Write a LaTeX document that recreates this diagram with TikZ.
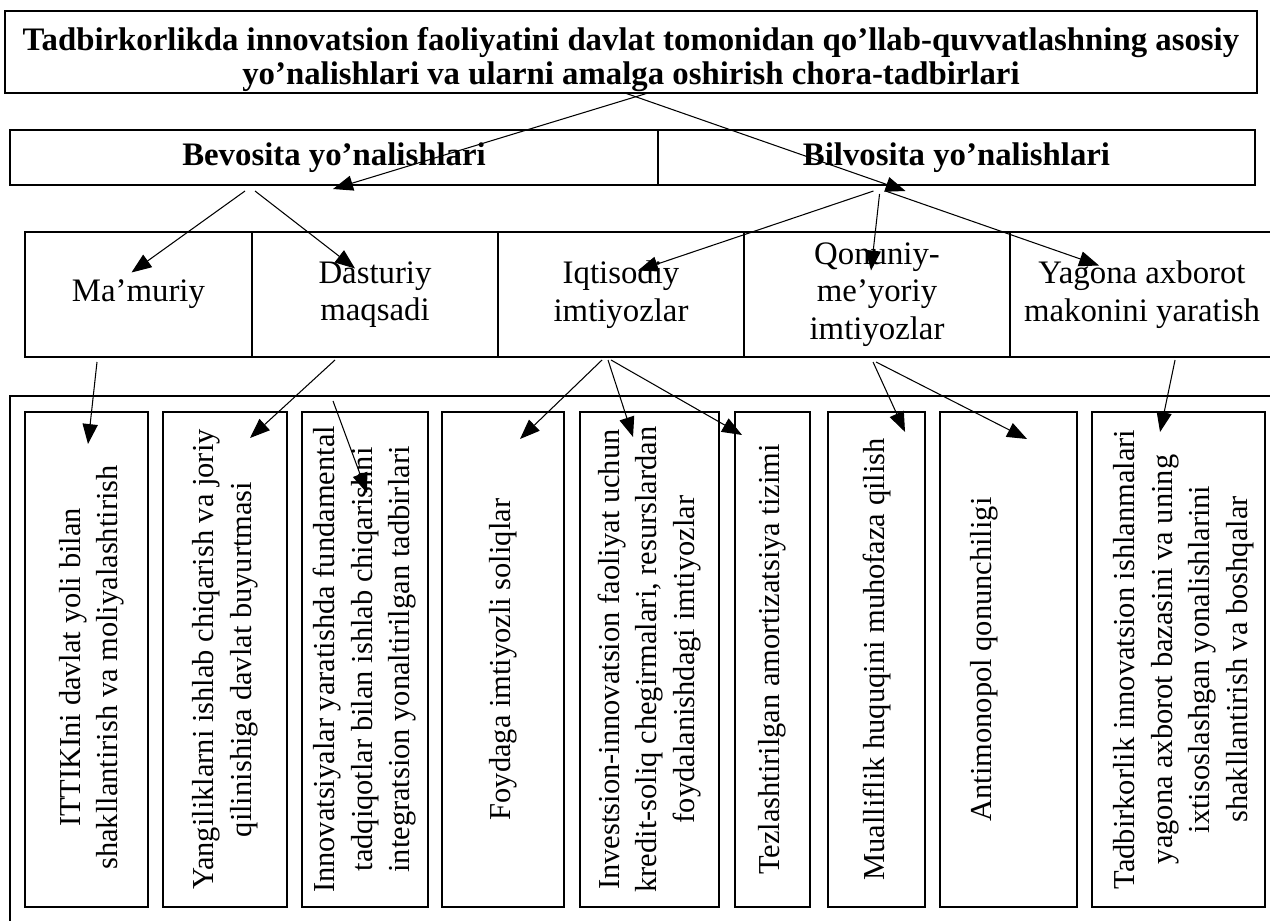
\documentclass[tikz,border=0pt]{standalone}
\usepackage{fontspec}
\setmainfont{Liberation Serif}
\usetikzlibrary{arrows.meta,positioning,calc}

\begin{document}
\begin{tikzpicture}[x=0.015cm,y=-0.015cm,
  box/.style={draw,line width=0.9pt,outer sep=0pt,inner sep=0pt,align=center,font=\fontsize{14}{16}\selectfont},
  headbox/.style={box,minimum height=0.825cm,font=\fontsize{14}{16}\selectfont\bfseries},
  cellbox/.style={box,minimum height=1.875cm},
  itembox/.style={box,minimum height=7.425cm},
  vtext/.style={rotate=90,align=center,inner sep=0pt,font=\fontsize{13}{16}\selectfont},
  arr/.style={-{Triangle[length=8.5pt,width=6.5pt]},line width=0.45pt},
]
\useasboundingbox (0,0) rectangle (1270,921);
\node[anchor=south west,font=\fontsize{14}{16}\selectfont\bfseries] (chz) at (1177,4) {2-chizma};
\node[box,minimum width=18.78cm,minimum height=1.23cm] (title) at (631,52) {};
\node[align=center,inner sep=0pt,font=\fontsize{14}{14.5}\selectfont\bfseries] (ttl) at ($(title)+(0,8)$)
  {Tadbirkorlikda innovatsion faoliyatini davlat tomonidan qo’llab-quvvatlashning asosiy\\yo’nalishlari va ularni amalga oshirish chora-tadbirlari};

\node[headbox,minimum width=9.72cm] (bev) at (334,157.5) {Bevosita yo’nalishlari};
\node[headbox,minimum width=8.955cm,right=0pt of bev] (bil) {Bilvosita yo’nalishlari};

\node[cellbox,minimum width=3.405cm] (mam) at (138.5,294.5) {Ma’muriy};
\node[cellbox,minimum width=3.69cm,right=0pt of mam] (das) {Dasturiy\\maqsadi};
\node[cellbox,minimum width=3.69cm,right=0pt of das] (iqt) {Iqtisodiy\\imtiyozlar};
\node[cellbox,minimum width=3.99cm,right=0pt of iqt] (qon) {Qonuniy-\\me’yoriy\\imtiyozlar};
\node[cellbox,minimum width=3.96cm,right=0pt of qon] (yag) {Yagona axborot\\makonini yaratish};

\node[draw,line width=0.9pt,outer sep=0pt,anchor=north west,minimum width=19.5cm,minimum height=8.5cm] (frame) at (10,396) {};

\node[itembox,minimum width=1.845cm] (b1) at (86.5,659.5) {};
\node[itembox,minimum width=1.86cm,right=0.225cm of b1] (b2) {};
\node[itembox,minimum width=1.89cm,right=0.225cm of b2] (b3) {};
\node[itembox,minimum width=1.83cm,right=0.21cm of b3] (b4) {};
\node[itembox,minimum width=2.085cm,right=0.24cm of b4] (b5) {};
\node[itembox,minimum width=1.125cm,right=0.24cm of b5] (b6) {};
\node[itembox,minimum width=1.455cm,right=0.27cm of b6] (b7) {};
\node[itembox,minimum width=2.055cm,right=0.225cm of b7] (b8) {};
\node[itembox,minimum width=2.595cm,right=0.225cm of b8] (b9) {};

\node[vtext] (t1) at ($(b1)+(5,8)$) {ITTIKIni davlat yoli bilan\\shakllantirish va moliyalashtirish};
\node[vtext] (t2) at (b2) {Yangiliklarni ishlab chiqarish va joriy\\qilinishiga davlat buyurtmasi};
\node[vtext] (t3) at (b3) {Innovatsiyalar yaratishda fundamental\\tadqiqotlar bilan ishlab chiqarishni\\integratsion yonaltirilgan tadbirlari};
\node[vtext] (t4) at (b4) {Foydaga imtiyozli soliqlar};
\node[vtext] (t5) at (b5) {Investsion-innovatsion faoliyat uchun\\kredit-soliq chegirmalari, resurslardan\\foydalanishdagi imtiyozlar};
\node[vtext] (t6) at (b6) {Tezlashtirilgan amortizatsiya tizimi};
\node[vtext] (t7) at (b7) {Mualliflik huquqini muhofaza qilish};
\node[vtext] (t8) at ($(b8)+(-24,0)$) {Antimonopol qonunchiligi};
\node[vtext] (t9) at ($(b9)+(5,0)$) {Tadbirkorlik innovatsion ishlanmalari\\yagona axborot bazasini va uning\\ixtisoslashgan yonalishlarini\\shakllantirish va boshqalar};

\draw[arr] ($(title.south)+(17,0)$) -- ($(bev.south)+(-1,4)$);
\draw[arr] ($(title.south)+(-6,0)$) -- ($(bil.south)+(-51,6)$);
\draw[arr] ($(bev.south)+(-89,6)$) -- ($(mam.center)+(-7,-22)$);
\draw[arr] ($(bev.south)+(-79,6)$) -- ($(das.center)+(-20,-26)$);
\draw[arr] ($(bil.south)+(-83,6)$) -- ($(iqt.center)+(17,-24)$);
\draw[arr] ($(bil.south)+(-77,9)$) -- ($(qon.center)+(-6,-24)$);
\draw[arr] ($(bil.south)+(-71,6)$) -- ($(yag.center)+(-43,-29)$);
\draw[arr] ($(mam.south)+(-41.5,5)$) -- ($(b1.north)+(1.5,32)$);
\draw[arr] ($(das.south)+(-40,3)$) -- ($(b2.north)+(25,26)$);
\draw[arr] ($(b3.north)+(-32,-11)$) -- ($(b3.north)+(2,81)$);
\draw[arr] ($(iqt.south)+(-19,3)$) -- ($(b4.north)+(17,27)$);
\draw[arr] ($(iqt.south)+(-13,3)$) -- ($(b5.north)+(-16.5,25)$);
\draw[arr] ($(iqt.south)+(-10,3)$) -- ($(b6.north)+(-30.5,23)$);
\draw[arr] ($(qon.south)+(-4,5)$) -- ($(b7.north)+(28.5,20)$);
\draw[arr] ($(qon.south)+(-1,5)$) -- ($(b8.north)+(18.5,27)$);
\draw[arr] ($(yag.south)+(33,3)$) -- ($(b9.north)+(-18.5,20)$);
\end{tikzpicture}
\end{document}
